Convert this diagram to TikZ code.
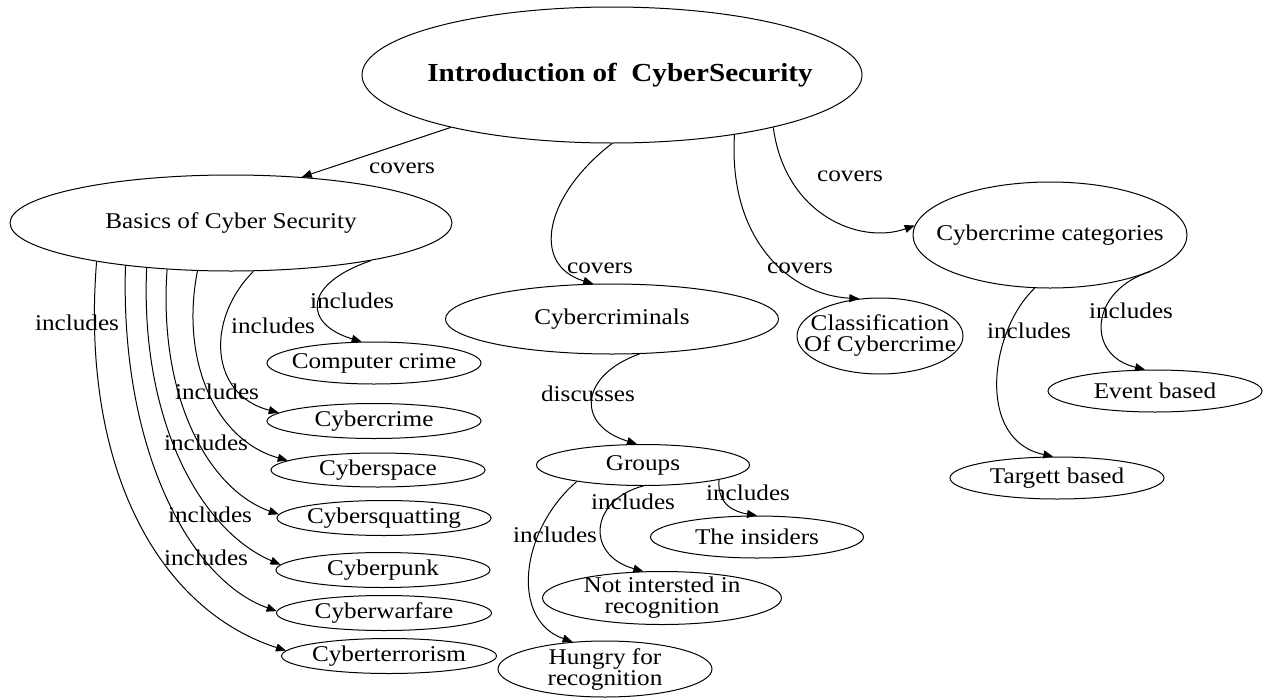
\documentclass[tikz,border=0pt]{standalone}
\usepackage{fontspec}
\setmainfont{Liberation Serif}[FakeStretch=1.12]
\usetikzlibrary{shapes.geometric,arrows.meta}

\begin{document}
\begin{tikzpicture}[x=1pt,y=-1pt,
  every node/.style={font=\fontsize{22.5}{21}\selectfont},
  oval/.style 2 args={draw, ellipse, line width=1pt, inner sep=0pt,
    minimum width=#1, minimum height=#2},
  lbl/.style={inner sep=0pt, align=center},
  link/.style={line width=1pt, -{Triangle[length=10pt,width=8pt]}},
]
\useasboundingbox (0,0) rectangle (1263,699);

% ---- concept ovals (outline only; the text sits in its own node) ----
\node[oval={500pt}{136pt}] (intro)    at (612,75)  {};
\node[oval={442pt}{96pt}]  (basics)   at (231,223) {};
\node[oval={333pt}{70pt}]  (crim)     at (612,319) {};
\node[oval={166pt}{76pt}]  (classif)  at (880,336) {};
\node[oval={274pt}{106pt}] (cats)     at (1050,235) {};
\node[oval={214pt}{42pt}]  (event)    at (1155,391) {};
\node[oval={214pt}{42pt}]  (target)   at (1057,478) {};
\node[oval={213pt}{41pt}]  (groups)   at (643,465) {};
\node[oval={213pt}{42pt}]  (insiders) at (757,537) {};
\node[oval={239pt}{53pt}]  (notint)   at (662,598) {};
\node[oval={214pt}{56pt}]  (hungry)   at (605,669) {};
\node[oval={214pt}{42pt}]  (compcr)   at (374,363) {};
\node[oval={214pt}{35pt}]  (cybercr)  at (374,421) {};
\node[oval={214pt}{34pt}]  (cspace)   at (378,470) {};
\node[oval={214pt}{35pt}]  (csquat)   at (384,518) {};
\node[oval={214pt}{35pt}]  (cpunk)    at (383,570) {};
\node[oval={215pt}{35pt}]  (cwar)     at (384,613) {};
\node[oval={215pt}{35pt}]  (cterror)  at (389,656) {};

% ---- oval texts ----
\node[lbl, font=\fontsize{26}{30}\selectfont\bfseries] (intro-t) at (620,75) {Introduction of\ \ CyberSecurity};
\node[lbl] (basics-t)   at (basics)   {Basics of Cyber Security};
\node[lbl] (crim-t)     at (crim)     {Cybercriminals};
\node[lbl] (classif-t)  at (classif)  {Classification\\Of Cybercrime};
\node[lbl] (cats-t)     at (cats)     {Cybercrime categories};
\node[lbl] (event-t)    at (event)    {Event based};
\node[lbl] (target-t)   at (target)   {Targett based};
\node[lbl] (groups-t)   at (groups)   {Groups};
\node[lbl] (insiders-t) at (insiders) {The insiders};
\node[lbl] (notint-t)   at (notint)   {Not intersted in\\recognition};
\node[lbl] (hungry-t)   at (hungry)   {Hungry for\\recognition};
\node[lbl] (compcr-t)   at (compcr)   {Computer crime};
\node[lbl] (cybercr-t)  at (cybercr)  {Cybercrime};
\node[lbl] (cspace-t)   at (cspace)   {Cyberspace};
\node[lbl] (csquat-t)   at (csquat)   {Cybersquatting};
\node[lbl] (cpunk-t)    at (cpunk)    {Cyberpunk};
\node[lbl] (cwar-t)     at (cwar)     {Cyberwarfare};
\node[lbl] (cterror-t)  at (cterror)  {Cyberterrorism};

% ---- top level: covers ----
\draw[link] (intro.198) -- (basics.33);
\draw[link] (intro.south) .. controls (545,195) and (530,265) .. (crim.118);
\draw[link] (intro.334) .. controls (728,240) and (790,295) .. (classif.119);
\draw[link] (intro.342) .. controls (785,215) and (860,245) .. (cats.176);

\node[lbl] (lc1) at (402,168) {covers};
\node[lbl] (lc2) at (600,268) {covers};
\node[lbl] (lc3) at (800,268) {covers};
\node[lbl] (lc4) at (850,176) {covers};

% ---- basics: includes ----
\draw[link] (basics.345) .. controls (300,285) and (305,325) .. (compcr.120);
\draw[link] (basics.295) .. controls (205,320) and (210,395) .. (cybercr.175);
\draw[link] (basics.235) .. controls (180,360) and (215,440) .. (cspace.174);
\draw[link] (basics.216) .. controls (158,400) and (210,490) .. (csquat.178);
\draw[link] (basics.208) .. controls (140,420) and (200,530) .. (cpunk.177);
\draw[link] (basics.202) .. controls (120,450) and (190,580) .. (cwar.179);
\draw[link] (basics.196) .. controls (80,470) and (160,610) .. (cterror.177);

\node[lbl] (li1) at (352,301) {includes};
\node[lbl] (li2) at (273,326) {includes};
\node[lbl] (li3) at (217,392) {includes};
\node[lbl] (li4) at (206,443) {includes};
\node[lbl] (li5) at (210,515) {includes};
\node[lbl] (li6) at (206,558) {includes};
\node[lbl] (li7) at (77,323)  {includes};

% ---- cybercriminals and groups ----
\draw[link] (crim.308) .. controls (580,375) and (575,425) .. (groups.106);
\node[lbl] (ld) at (588,394) {discusses};

\draw[link] (groups.349) .. controls (717,505) and (735,512) .. (insiders.north);
\draw[link] (groups.south) .. controls (590,500) and (585,555) .. (notint.125);
\draw[link] (groups.194) .. controls (520,530) and (510,620) .. (hungry.140);

\node[lbl] (lg1) at (748,493) {includes};
\node[lbl] (lg2) at (633,502) {includes};
\node[lbl] (lg3) at (555,535) {includes};

% ---- cybercrime categories ----
\draw[link] (cats.340) .. controls (1090,290) and (1085,355) .. (event.115);
\draw[link] (cats.254) .. controls (990,330) and (975,440) .. (target.100);

\node[lbl] (lk1) at (1131,311) {includes};
\node[lbl] (lk2) at (1029,331) {includes};

\end{tikzpicture}
\end{document}
